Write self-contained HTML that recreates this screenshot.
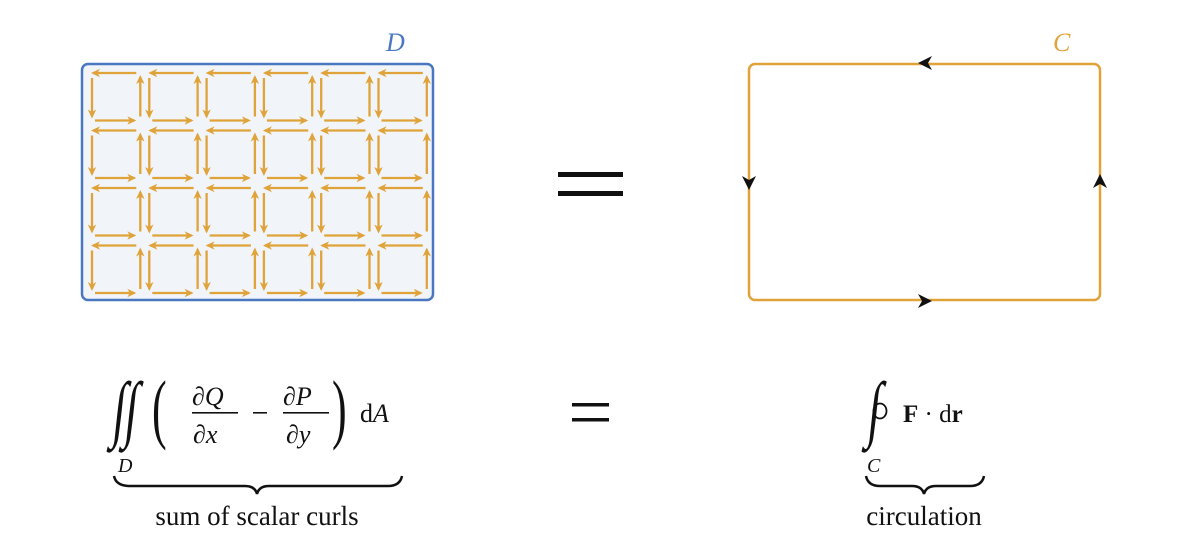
<!DOCTYPE html>
<html><head><meta charset="utf-8"><style>
html,body{margin:0;padding:0;background:#fff;}
svg{display:block;}
text{font-family:"Liberation Serif","DejaVu Serif",serif;fill:#111;}
</style></head><body>
<svg id="s" width="1200" height="554" viewBox="0 0 1200 554" xmlns="http://www.w3.org/2000/svg">
<defs>
<marker id="oa" markerWidth="10" markerHeight="10" refX="7" refY="5" orient="auto" markerUnits="userSpaceOnUse"><path d="M0,0.8 L9,5 L0,9.2 L2.5,5 Z" fill="#e0a33a"/></marker>
</defs>
<rect x="82" y="64" width="351" height="236" rx="6" fill="#f1f4f9" stroke="#4a78c0" stroke-width="2.5"/>
<g id="g" stroke="#e0a33a" stroke-width="2.3" fill="none"></g>
<text x="386" y="51" font-size="26" font-style="italic" style="fill:#4a78c0">D</text>
<rect x="558" y="172" width="65" height="5" fill="#111"/><rect x="558" y="191" width="65" height="5" fill="#111"/>
<rect x="749" y="64" width="351" height="236" rx="6" fill="none" stroke="#e0a33a" stroke-width="2.5"/>
<text x="1053" y="51" font-size="26" font-style="italic" style="fill:#e0a33a">C</text>
<path d="M918,63 L932,56 L928,63 L932,70 Z" fill="#111"/>
<path d="M932,301 L918,294 L922,301 L918,308 Z" fill="#111"/>
<path d="M749,190 L742,176 L749,180 L756,176 Z" fill="#111"/>
<path d="M1100,174 L1093,188 L1100,184 L1107,188 Z" fill="#111"/>
<!-- left formula -->
<text font-size="42" font-style="italic" transform="translate(111,433) scale(1.1,1.75) skewX(-10)">∫</text>
<text font-size="42" font-style="italic" transform="translate(123,433) scale(1.1,1.75) skewX(-10)">∫</text>
<text x="118" y="472" font-size="20" font-style="italic">D</text>
<text font-size="44" transform="translate(152,434) scale(1,1.75)">(</text>
<text x="192" y="405" font-size="26">∂<tspan font-style="italic">Q</tspan></text>
<rect x="192" y="412" width="46" height="1.6" fill="#111"/>
<text x="193" y="443" font-size="26">∂<tspan font-style="italic">x</tspan></text>
<rect x="253" y="412" width="14" height="1.6" fill="#111"/>
<text x="283" y="405" font-size="26">∂<tspan font-style="italic">P</tspan></text>
<rect x="283" y="412" width="46" height="1.6" fill="#111"/>
<text x="286" y="443" font-size="26">∂<tspan font-style="italic">y</tspan></text>
<text font-size="44" transform="translate(332,434) scale(1,1.75)">)</text>
<text x="360" y="422" font-size="26">d<tspan font-style="italic">A</tspan></text>
<path d="M114,476 Q116,486 130,486 L245,486 Q255,486 257,494 Q259,486 269,486 L388,486 Q400,486 402,476" fill="none" stroke="#111" stroke-width="2.5"/>
<text x="257" y="525" font-size="27" text-anchor="middle">sum of scalar curls</text>
<!-- middle equals -->
<rect x="572" y="403" width="37" height="3.5" fill="#111"/><rect x="572" y="418" width="37" height="3.5" fill="#111"/>
<!-- right formula -->
<text font-size="42" font-style="italic" transform="translate(866,433) scale(1.1,1.75) skewX(-10)">∫</text>
<ellipse cx="880" cy="411" rx="6.5" ry="7.5" fill="none" stroke="#111" stroke-width="1.8"/>
<text x="867" y="472" font-size="20" font-style="italic">C</text>
<text x="903" y="422" font-size="25"><tspan font-weight="bold">F</tspan> · d<tspan font-weight="bold">r</tspan></text>
<path d="M866,476 Q868,486 880,486 L912,486 Q922,486 924,494 Q926,486 936,486 L970,486 Q982,486 984,476" fill="none" stroke="#111" stroke-width="2.5"/>
<text x="924" y="525" font-size="27" text-anchor="middle">circulation</text>
</svg>
<script>
var g=document.getElementById('g'),ns='http://www.w3.org/2000/svg';
function L(x1,y1,x2,y2){var l=document.createElementNS(ns,'line');l.setAttribute('x1',x1);l.setAttribute('y1',y1);l.setAttribute('x2',x2);l.setAttribute('y2',y2);l.setAttribute('marker-end','url(#oa)');g.appendChild(l);}
var w=57.3,h=57.5;
for(var i=0;i<6;i++)for(var j=0;j<4;j++){
 var x=86+i*w,y=67+j*h;
 L(x+w-7,y+6,x+7,y+6);
 L(x+6,y+11,x+6,y+h-8);
 L(x+9,y+h-4,x+w-9,y+h-4);
 L(x+w-3,y+h-8,x+w-3,y+10);
}
</script>
</body></html>
